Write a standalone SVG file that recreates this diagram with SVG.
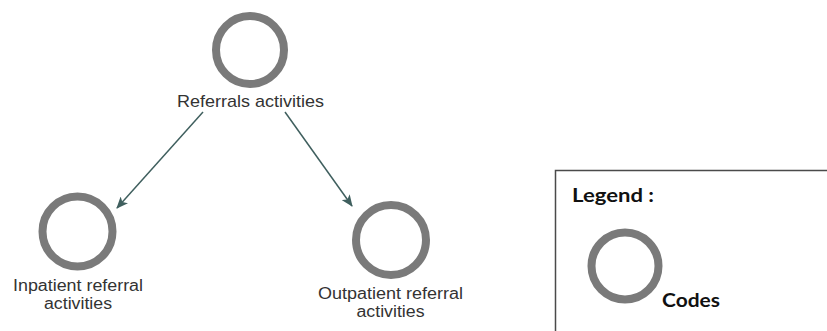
<svg xmlns="http://www.w3.org/2000/svg" width="827" height="331" viewBox="0 0 827 331">
<style>
.ring{fill:#fff;stroke:#7a7a7a;stroke-width:8}
.lbl{font-family:"Liberation Sans",Arial,sans-serif;font-size:16px;fill:#333;text-anchor:middle}
.top{font-size:17px}
.edge{stroke:#3f5f5e;stroke-width:1.5;fill:none}
.leg{font-family:Lato,"Liberation Sans",sans-serif;font-weight:bold;font-size:18px;fill:#111}
</style>
<defs>
<marker id="ah" viewBox="0 0 12 10" refX="11" refY="5" markerWidth="12" markerHeight="10" markerUnits="userSpaceOnUse" orient="auto">
<path d="M0,0 L12,5 L0,10 L3,5 Z" fill="#3f5f5e"/>
</marker>
</defs>
<rect width="827" height="331" fill="#fff"/>
<g id="connectors">
<line class="edge" x1="203" y1="112" x2="117" y2="208" marker-end="url(#ah)"/>
<line class="edge" x1="285" y1="112" x2="352" y2="206" marker-end="url(#ah)"/>
</g>
<g id="referrals">
<circle class="ring" cx="250" cy="50" r="34"/>
<text class="lbl top" x="250.5" y="107" textLength="147" lengthAdjust="spacingAndGlyphs">Referrals activities</text>
</g>
<g id="inpatient">
<circle class="ring" cx="77.5" cy="231.5" r="35"/>
<text class="lbl"><tspan x="78" y="290.5" textLength="130" lengthAdjust="spacingAndGlyphs">Inpatient referral</tspan><tspan x="78" y="308.5" textLength="68" lengthAdjust="spacingAndGlyphs">activities</tspan></text>
</g>
<g id="outpatient">
<circle class="ring" cx="391" cy="240" r="35"/>
<text class="lbl"><tspan x="390.5" y="298.5" textLength="145" lengthAdjust="spacingAndGlyphs">Outpatient referral</tspan><tspan x="390.5" y="316.5" textLength="68" lengthAdjust="spacingAndGlyphs">activities</tspan></text>
</g>
<g id="legend">
<rect x="555.5" y="170.5" width="300" height="200" fill="#fff" stroke="#4a4a4a" stroke-width="1.5"/>
<text class="leg" x="572" y="202" textLength="82" lengthAdjust="spacingAndGlyphs">Legend :</text>
<circle class="ring" cx="625" cy="266" r="33.5"/>
<text class="leg" x="662" y="307" textLength="58" lengthAdjust="spacingAndGlyphs">Codes</text>
</g>
</svg>
